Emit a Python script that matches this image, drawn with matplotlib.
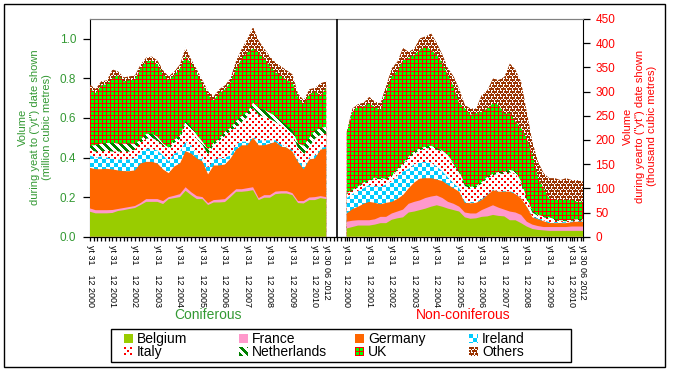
import numpy as np
import matplotlib
matplotlib.use('Agg')
import matplotlib.pyplot as plt
from matplotlib.colors import to_rgb
from matplotlib.patches import Rectangle

plt.rcParams['font.family'] = ['Liberation Sans', 'DejaVu Sans']

countries = ['Belgium', 'France', 'Germany', 'Ireland', 'Italy', 'Netherlands', 'UK', 'Others']

# months after Dec 2000 of each quarterly reading
quarter_months = [0, 3, 6, 9, 12, 15, 18, 21, 24, 27, 30, 33, 36, 39, 42, 45, 48, 51, 54, 57, 60,
                  63, 66, 69, 72, 75, 78, 81, 84, 87, 90, 93, 96, 99, 102, 105, 108, 111, 114,
                  117, 120, 123, 126]
tick_months = [0, 12, 24, 36, 48, 60, 72, 84, 96, 108, 120, 126]
tick_labels = ['yt 31    12 2000', 'yt 31    12 2001', 'yt 31    12 2002', 'yt 31    12 2003',
               'yt 31    12 2004', 'yt 31    12 2005', 'yt 31    12 2006', 'yt 31    12 2007',
               'yt 31    12 2008', 'yt 31    12 2009', 'yt 31    12 2010', 'yt 30 06 2012']

# Coniferous (million m3)
con_belgium = [.126, .118, .118, .118, .120, .130, .134, .140, .145, .160, .176, .176, .176, .165, .190,
               .195, .200, .232, .210, .190, .190, .160, .173, .173, .175, .200, .227, .227, .230, .235,
               .185, .197, .197, .215, .218, .218, .210, .170, .168, .185, .185, .195, .190]
con_france = [.017, .016, .016, .016, .015, .010, .011, .010, .010, .010, .014, .014, .014, .015, .010,
              .012, .015, .018, .015, .015, .010, .010, .012, .014, .015, .015, .013, .013, .015, .015,
              .010, .013, .013, .013, .012, .012, .010, .010, .012, .013, .015, .010, .010]
con_germany = [.205, .207, .207, .209, .205, .195, .186, .181, .180, .200, .188, .188, .180, .160, .121,
               .148, .155, .182, .195, .190, .180, .145, .175, .173, .175, .180, .200, .222, .217, .250,
               .267, .252, .260, .251, .225, .220, .210, .198, .160, .192, .195, .235, .245]
con_ireland = [.062, .059, .064, .057, .055, .055, .059, .059, .065, .060, .067, .067, .065, .070, .059,
               .065, .060, .048, .040, .025, .020, .035, .030, .035, .035, .015, .030, .018, .018, .005,
               .025, .025, .017, .008, .010, .005, .007, .012, .020, .010, .015, .007, .010]
con_italy = [.030, .030, .025, .035, .035, .040, .040, .040, .040, .045, .050, .055, .050, .050, .060,
             .055, .065, .090, .075, .075, .065, .065, .075, .090, .110, .125, .085, .100, .125, .145,
             .128, .118, .108, .093, .095, .085, .085, .055, .055, .055, .085, .068, .065]
con_netherlands = [.020, .033, .040, .038, .045, .040, .040, .040, .030, .015, .025, .020, .020, .010, .010,
                   .015, .015, .013, .020, .018, .015, .025, .010, .010, .020, .015, .030, .030, .025, .027,
                   .035, .035, .030, .030, .025, .020, .016, .025, .045, .045, .040, .035, .035]
con_uk = [.288, .263, .295, .297, .325, .345, .315, .320, .325, .360, .365, .370, .365, .350, .340,
          .325, .340, .327, .320, .312, .290, .275, .215, .230, .215, .230, .265, .290, .300, .273,
          .280, .260, .235, .220, .230, .230, .242, .232, .210, .220, .197, .165, .195]
con_others = [.020, .020, .020, .020, .045, .020, .020, .020, .020, .020, .020, .020, .020, .020, .020,
              .020, .020, .045, .020, .020, .020, .020, .020, .020, .020, .020, .040, .050, .070, .110,
              .060, .050, .050, .050, .045, .050, .040, .020, .020, .025, .020, .060, .035]

# Non-coniferous (thousand m3)
non_belgium = [17, 20, 23, 23, 23, 25, 28, 28, 35, 38, 40, 50, 52, 55, 58, 62, 65, 62, 58, 55, 52, 40,
               37, 38, 41, 42, 45, 43, 42, 34, 34, 28, 21, 16, 14, 13, 12, 12, 12, 12, 12, 12, 12]
non_france = [14, 13, 11, 11, 11, 11, 13, 13, 13, 14, 16, 18, 20, 20, 22, 21, 20, 18, 14, 13, 10, 10,
              11, 10, 14, 18, 20, 17, 14, 18, 16, 17, 10, 9, 8, 7, 8, 8, 8, 8, 9, 9, 9]
non_germany = [17, 24, 28, 34, 38, 34, 26, 29, 24, 26, 30, 32, 40, 45, 41, 38, 33, 35, 35, 32, 31, 20,
               21, 22, 21, 26, 31, 33, 37, 41, 38, 34, 31, 15, 14, 12, 8, 8, 8, 8, 9, 10, 10]
non_ireland = [32, 31, 33, 32, 35, 35, 36, 38, 43, 49, 49, 40, 38, 33, 34, 32, 27, 20, 15, 10, 7, 2,
               2, 2, 2, 1, 1, 1, 1, 1, 2, 1, 0, 2, 2, 2, 2, 2, 2, 2, 1, 1, 1]
non_italy = [8, 7, 7, 10, 8, 15, 16, 10, 10, 11, 15, 22, 22, 26, 27, 31, 35, 41, 43, 40, 32, 33,
             29, 30, 32, 34, 30, 37, 36, 39, 40, 30, 14, 8, 5, 6, 8, 4, 2, 2, 2, 2, 2]
non_netherlands = [2, 2, 2, 2, 2, 2, 2, 2, 2, 2, 2, 4, 4, 4, 4, 4, 3, 2, 3, 2, 3, 3,
                   3, 3, 3, 3, 3, 3, 4, 5, 5, 4, 4, 3, 2, 2, 2, 2, 2, 2, 2, 2, 2]
non_uk = [125, 161, 165, 157, 158, 146, 141, 180, 204, 203, 213, 203, 200, 203, 207, 198, 193, 180, 166,
          158, 140, 157, 149, 150, 145, 141, 146, 138, 120, 117, 103, 110, 123, 116, 76, 58, 39, 40,
          42, 42, 41, 36, 36]
non_others = [3, 7, 5, 8, 14, 11, 14, 12, 17, 19, 25, 13, 13, 24, 21, 34, 24, 18, 14, 21, 30, 7,
              13, 10, 35, 38, 51, 52, 76, 103, 107, 96, 55, 27, 34, 31, 42, 45, 41, 45, 41, 45, 42]

coniferous = [con_belgium, con_france, con_germany, con_ireland, con_italy, con_netherlands, con_uk, con_others]
nonconiferous = [non_belgium, non_france, non_germany, non_ireland, non_italy, non_netherlands, non_uk, non_others]

GAP = 137  # category offset of the second block

GREEN_TXT = '#339933'
RED_TXT = '#FF0000'


# ---- fill styles (pixel tiles like Excel patterns) ----
def tile_from(rows, cmap):
    return np.array([[to_rgb(cmap[ch]) for ch in r] for r in rows], dtype=float)


W_ = '#FFFFFF'
tiles = {
    'Ireland': tile_from(['CCCCWWWW'] * 4 + ['WWWWCCCC'] * 4, {'C': '#00CCFF', 'W': W_}),
    'Italy': tile_from(['RRWWWW', 'RRWWWW', 'WWWWWW', 'WWWRRW', 'WWWRRW', 'WWWWWW'],
                       {'R': '#FF0000', 'W': W_}),
    'Netherlands': tile_from([''.join('G' if (c - r) % 8 < 4 else 'W' for c in range(8)) for r in range(8)],
                             {'G': '#008000', 'W': W_}),
    'UK': tile_from(['RRRR', 'RGGG', 'RGGG', 'RGGG'], {'R': '#FF0000', 'G': '#00FF00'}),
    'Others': tile_from(['BBBBBW', 'BBBBBW', 'WWBWWB', 'BBWBBB', 'BBWBBB', 'WBWWBW'],
                        {'B': '#993300', 'W': W_}),
}
solids = {'Belgium': '#99CC00', 'France': '#FF99CC', 'Germany': '#FF6600'}


def pattern_image(tile, W, H):
    th, tw = tile.shape[:2]
    return np.tile(tile, (H // th + 2, W // tw + 2, 1))[:H, :W]


fig = plt.figure(figsize=(6.73, 3.71), dpi=100)
ax = fig.add_axes([90 / 673, (371 - 236.7) / 371, 493 / 673, 217.7 / 371])
ax2 = ax.twinx()
XMAX = 263
ax.set_xlim(0, XMAX)
ax.set_ylim(0, 1.1)
ax2.set_ylim(0, 450)

bb = ax.get_window_extent()
PW, PH = int(round(bb.width)), int(round(bb.height))


def draw_block(a, xs, series, ymax):
    tops = np.cumsum(np.array(series, dtype=float), axis=0)
    for k in reversed(range(len(countries))):
        name = countries[k]
        z = 2 + (len(countries) - k)
        if name in solids:
            a.fill_between(xs, 0, tops[k], facecolor=solids[name], edgecolor='none', lw=0, zorder=z)
        else:
            poly = a.fill_between(xs, 0, tops[k], facecolor='none', edgecolor='none', lw=0, zorder=z)
            im = a.imshow(pattern_image(tiles[name], PW, PH), extent=(0, XMAX, 0, ymax),
                          aspect='auto', interpolation='nearest', origin='upper', zorder=z)
            im.set_clip_path(poly.get_paths()[0], transform=a.transData)


xs_left = np.array(quarter_months)
xs_right = xs_left + GAP
draw_block(ax, xs_left, coniferous, 1.1)
draw_block(ax2, xs_right, nonconiferous, 450)
ax.set_xlim(0, XMAX)
ax.set_ylim(0, 1.1)
ax2.set_xlim(0, XMAX)
ax2.set_ylim(0, 450)

ax2.axvline((126 + GAP) / 2, color='black', lw=1.2, zorder=30)

# x axis
ax.set_xticks(list(tick_months) + [m + GAP for m in tick_months])
ax.set_xticklabels(tick_labels * 2, rotation=270, fontsize=6.5, va='top', ha='center')
ax.set_xticks(np.arange(0, XMAX + 1, 2), minor=True)
ax.tick_params(axis='x', which='both', direction='out', length=3, width=0.9, pad=3, color='black')

# y axes
ax.set_yticks([0, 0.2, 0.4, 0.6, 0.8, 1.0])
ax.set_yticklabels(['0.0', '0.2', '0.4', '0.6', '0.8', '1.0'])
ax.tick_params(axis='y', direction='out', length=5, width=0.9, labelcolor=GREEN_TXT, labelsize=8.5, pad=5)
ax2.set_yticks(list(range(0, 451, 50)))
ax2.tick_params(axis='y', direction='out', length=5, width=0.9, labelcolor=RED_TXT, labelsize=8.5, pad=4)

for a in (ax, ax2):
    a.spines['top'].set_color('#808080')
    a.spines['bottom'].set_color('black')
ax.spines['right'].set_visible(False)
ax2.spines['left'].set_visible(False)
ax.spines['left'].set_color('black')
ax2.spines['right'].set_color('black')

# axis titles
fig.text(35 / 673, 1 - 127 / 371, 'Volume\nduring yeat to ("yt") date shown\n(million cubic metres)',
         rotation=90, ha='center', va='center', multialignment='center', color=GREEN_TXT,
         fontsize=8, linespacing=1.3)
fig.text(640 / 673, 1 - 126 / 371, 'Volume\nduring yearto ("yt") date shown\n(thousand cubic metres)',
         rotation=90, ha='center', va='center', multialignment='center', color=RED_TXT,
         fontsize=8, linespacing=1.3)

fig.text(208 / 673, 1 - 315 / 371, 'Coniferous', ha='center', va='center', color=GREEN_TXT, fontsize=10)
fig.text(463 / 673, 1 - 315 / 371, 'Non-coniferous', ha='center', va='center', color=RED_TXT, fontsize=10)

# legend (manual, Excel-like)
fig.patches.append(Rectangle((111 / 673, (371 - 362) / 371), 460 / 673, 33 / 371, transform=fig.transFigure,
                             fill=False, edgecolor='black', lw=1))
leg_x = [128, 243, 359, 473]
leg_y = [339, 352]
for k, name in enumerate(countries):
    cx = leg_x[k % 4]
    cy = leg_y[k // 4]
    if name in solids:
        mk = np.ones((9, 9, 3)) * np.array(to_rgb(solids[name]))
    else:
        mk = pattern_image(tiles[name], 9, 9)
    fig.figimage(mk, xo=cx - 4, yo=(371 - cy) - 4, origin='upper', zorder=5)
    fig.text((cx + 9) / 673, 1 - cy / 371, name, ha='left', va='center', fontsize=10, color='black')

# outer frame
fig.patches.append(Rectangle((4 / 673, 4 / 371), 661 / 673, 363 / 371, transform=fig.transFigure,
                             fill=False, edgecolor='black', lw=1))

fig.savefig('out.png', dpi=100)
